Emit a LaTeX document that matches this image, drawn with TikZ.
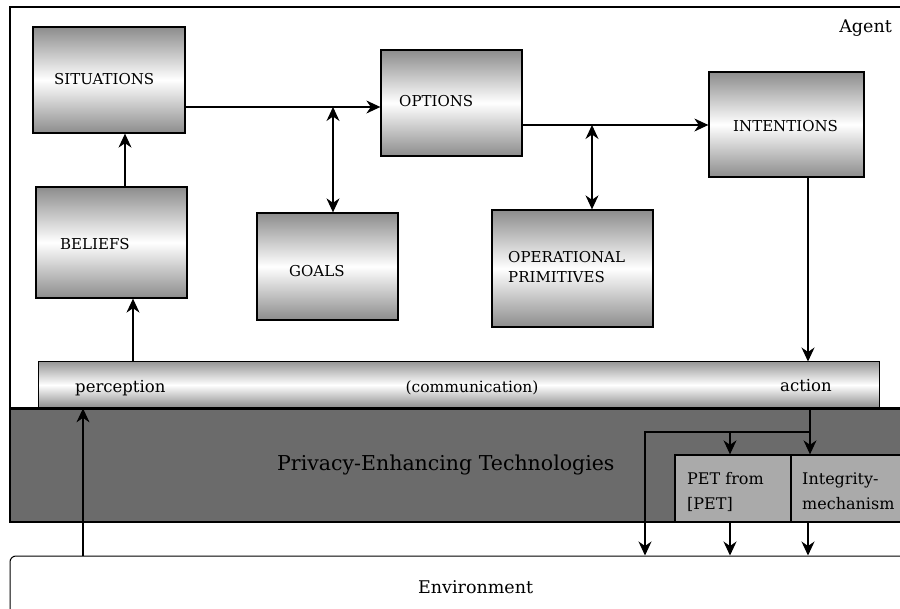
\documentclass[tikz,border=0pt]{standalone}
\usepackage{fontspec}
\setmainfont{DejaVu Serif}
\usetikzlibrary{arrows.meta,calc}
\definecolor{petdark}{HTML}{6B6B6B}
\definecolor{petlight}{HTML}{AAAAAA}
\tikzset{
  box/.style={draw=black, line width=1.3pt, top color=black!45, bottom color=black!45, middle color=white, inner sep=0pt},
  barbox/.style={draw=black, line width=1pt, top color=black!40, bottom color=black!45, middle color=white, inner sep=0pt},
  petbox/.style={draw=black, line width=1.3pt, fill=petlight, inner sep=0pt},
  tip/.tip={Stealth[length=14pt,width=13pt,inset=4.5pt]},
  arr/.style={line width=1.1pt, -tip},
  darr/.style={line width=1.1pt, tip-tip},
  lbl/.style={anchor=base west, inner sep=0pt, font=\fontsize{15}{18}\selectfont},
  blbl/.style={anchor=base west, inner sep=0pt, font=\fontsize{16.5}{19}\selectfont},
  slbl/.style={anchor=base west, inner sep=0pt, font=\fontsize{16}{19}\selectfont},
}
\begin{document}
\begin{tikzpicture}[x=1pt,y=-1pt]
\useasboundingbox (0,0) rectangle (900,609);
\begin{scope}
\clip (0,0) rectangle (900,609);
% environment
\node[draw=black, line width=1pt, rounded corners=6pt, minimum width=900pt, minimum height=69pt, inner sep=0pt] (env) at (460,590.5) {};
% agent frame
\node[draw=black, line width=1.3pt, minimum width=900pt, minimum height=401pt, inner sep=0pt] (agent) at (460,207.5) {};
% PET band
\node[draw=black, line width=1.3pt, fill=petdark, minimum width=900pt, minimum height=113pt, inner sep=0pt] (pet) at (460,465.5) {};
\node[petbox, minimum width=116pt, minimum height=67pt] (petf) at (733,488.5) {};
\node[petbox, minimum width=119pt, minimum height=67pt] (integ) at (850.5,488.5) {};
\end{scope}

% boxes
\node[box, minimum width=152pt, minimum height=106pt] (sit) at (109,80) {};
\node[box, minimum width=141pt, minimum height=106pt] (opt) at (451.5,103) {};
\node[box, minimum width=155pt, minimum height=105pt] (int) at (786.5,124.5) {};
\node[box, minimum width=151pt, minimum height=111pt] (bel) at (111.5,242.5) {};
\node[box, minimum width=141pt, minimum height=107pt] (goals) at (327.5,266.5) {};
\node[box, minimum width=161pt, minimum height=117pt] (opprim) at (572.5,268.5) {};
\node[barbox, minimum width=841pt, minimum height=46pt] (comm) at (458.5,385) {};

% labels
\node[lbl] (tsit) at (54,85) {SITUATIONS};
\node[lbl] (topt) at (399,107) {OPTIONS};
\node[lbl] (tint) at (733,132) {INTENTIONS};
\node[lbl] (tbel) at (60,250) {BELIEFS};
\node[lbl] (tgoals) at (289,277) {GOALS};
\node[lbl] (top1) at (508,263) {OPERATIONAL};
\node[lbl] (top2) at (508,283) {PRIMITIVES};
\node[anchor=base east, inner sep=0pt, font=\fontsize{17.5}{20}\selectfont] (tagent) at (892,33) {Agent};
\node[blbl] (tperc) at (75,393) {perception};
\node[anchor=base, inner sep=0pt, font=\fontsize{15.5}{18}\selectfont] (tcomm) at (472,393) {(communication)};
\node[blbl] (tact) at (780,392) {action};
\node[anchor=base west, inner sep=0pt, font=\fontsize{20.5}{24}\selectfont] (tpet) at (277,471) {Privacy-Enhancing Technologies};
\node[slbl] (tpf1) at (687,485) {PET from};
\node[slbl] (tpf2) at (687,510) {[PET]};
\node[slbl] (tin1) at (802,485) {Integrity-};
\node[slbl] (tin2) at (802,510) {mechanism};
\node[anchor=base west, inner sep=0pt, font=\fontsize{17.5}{20}\selectfont] (tenv) at (418,593) {Environment};

% connector reference coordinates
\coordinate (xa) at (125,0);
\coordinate (xb) at (133,0);
\coordinate (ya) at (0,107);
\coordinate (j1) at (333,107);
\coordinate (yb) at (0,125);
\coordinate (j2) at (592,125);
\coordinate (xc) at (808,0);
\coordinate (xd) at (83,0);
\coordinate (br) at (810,432);
\coordinate (bl) at (645,432);
\coordinate (xf) at (730,0);

% connectors
\draw[arr] (xa |- bel.north) -- (xa |- sit.south);
\draw[arr] (xb |- comm.north) -- (xb |- bel.south);
\draw[arr] (sit.east |- ya) -- (opt.west |- ya);
\draw[darr] (j1) -- (j1 |- goals.north);
\draw[arr] (opt.east |- yb) -- (int.west |- yb);
\draw[darr] (j2) -- (j2 |- opprim.north);
\draw[arr] (xc |- int.south) -- (xc |- comm.north);
\draw[arr] (xd |- env.north) -- (xd |- pet.north);
\draw[arr] (br |- comm.south) -- (br |- integ.north);
\draw[arr] (br) -- (bl) -- (bl |- env.north);
\draw[arr] (xf |- br) -- (xf |- petf.north);
\draw[arr] (xf |- petf.south) -- (xf |- env.north);
\draw[arr] (xc |- integ.south) -- (xc |- env.north);
\end{tikzpicture}
\end{document}
